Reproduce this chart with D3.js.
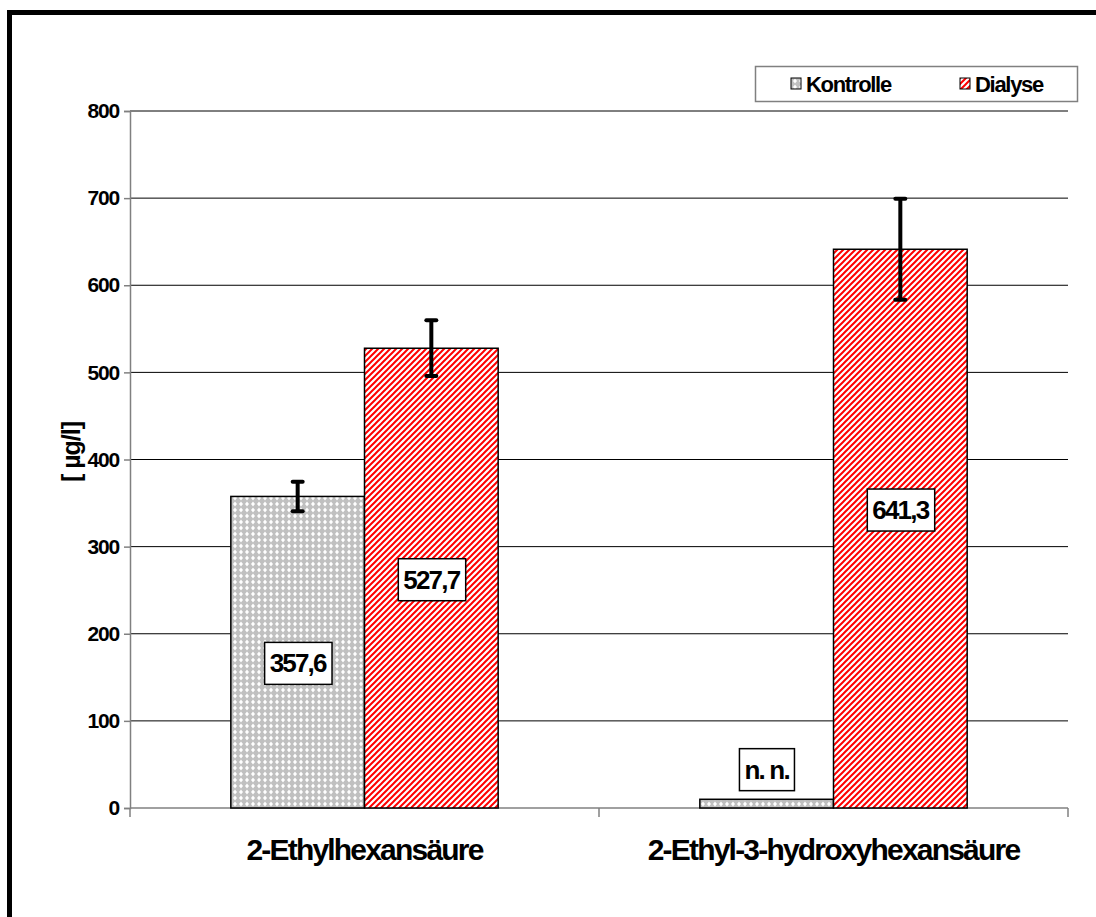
<!DOCTYPE html>
<html>
<head>
<meta charset="utf-8">
<script src="https://cdn.jsdelivr.net/npm/d3@7"></script>
<style>
  body { margin: 0; background: #fff; }
  text { font-family: "Liberation Sans", Arial, sans-serif; font-weight: bold; }
</style>
</head>
<body>
<div id="chart"></div>
<script>
var svgWidth = 1096;
var svgHeight = 917;

var margin = { top: 111, right: 28, bottom: 109, left: 130 };
var width = svgWidth - margin.left - margin.right;
var height = svgHeight - margin.top - margin.bottom;

// chart data
var categories = ["2-Ethylhexansäure", "2-Ethyl-3-hydroxyhexansäure"];
var seriesNames = ["Kontrolle", "Dialyse"];
var kontrolle = [357.6, 10];
var dialyse = [527.7, 641.3];
var kontrolleErr = [17, 0];
var dialyseErr = [32, 58];
var kontrolleLabels = ["357,6", "n. n."];
var dialyseLabels = ["527,7", "641,3"];
var kontrolleLabelAt = [166, 44];
var dialyseLabelAt = [262, 342];
var yTicks = [0, 100, 200, 300, 400, 500, 600, 700, 800];

var svg = d3.select("#chart").append("svg")
  .attr("width", svgWidth)
  .attr("height", svgHeight);

// patterns
var defs = svg.append("defs");
var pk = defs.append("pattern").attr("id", "pKontrolle")
  .attr("patternUnits", "userSpaceOnUse").attr("width", 6).attr("height", 6);
pk.append("rect").attr("width", 6).attr("height", 6).attr("fill", "#c0c0c0");
pk.append("path").attr("d", "M3,0.5 L5,3 L3,5.5 L1,3 Z").attr("fill", "#fff");

var pd = defs.append("pattern").attr("id", "pDialyse")
  .attr("patternUnits", "userSpaceOnUse").attr("width", 6).attr("height", 6);
pd.append("rect").attr("width", 6).attr("height", 6).attr("fill", "#fff");
pd.append("path").attr("d", "M-1,7 L7,-1 M-1,1 L1,-1 M5,7 L7,5")
  .attr("stroke", "#ff0000").attr("stroke-width", 2);

// outer frame
svg.append("rect")
  .attr("x", 9.5).attr("y", 12.5)
  .attr("width", 1200).attr("height", 1000)
  .attr("fill", "none").attr("stroke", "#000").attr("stroke-width", 5);

var chartGroup = svg.append("g")
  .attr("transform", `translate(${margin.left}, ${margin.top})`);

var x0 = d3.scaleBand().domain(categories).range([0, width]);
var x1 = d3.scaleBand().domain(seriesNames)
  .range([x0.bandwidth() * 0.215, x0.bandwidth() * 0.785]);

var yLinearScale = d3.scaleLinear().domain([0, 800]).range([height, 0]);

// gridlines
chartGroup.selectAll(".grid").data(yTicks.slice(1)).enter().append("line")
  .attr("x1", 0).attr("x2", width)
  .attr("y1", d => yLinearScale(d)).attr("y2", d => yLinearScale(d))
  .attr("stroke", "#000").attr("stroke-width", 1);

// axes
var leftAxis = d3.axisLeft(yLinearScale).tickValues(yTicks).tickSize(6).tickPadding(5);
var yAxisG = chartGroup.append("g").call(leftAxis).attr("font-size", 21);
yAxisG.select(".domain").attr("stroke", "#808080").attr("stroke-width", 1.5);
yAxisG.selectAll(".tick line").attr("stroke", "#808080").attr("stroke-width", 1.5);
yAxisG.selectAll(".tick text")
  .attr("font-size", "21px").attr("font-family", "Liberation Sans, Arial, sans-serif")
  .attr("font-weight", "bold").attr("letter-spacing", "-1.2px").attr("fill", "#000");

chartGroup.append("line")
  .attr("x1", 0).attr("x2", width)
  .attr("y1", height).attr("y2", height)
  .attr("stroke", "#808080").attr("stroke-width", 1.5);
chartGroup.selectAll(".ctick").data([0, 1, 2]).enter().append("line")
  .attr("x1", d => d * x0.step()).attr("x2", d => d * x0.step())
  .attr("y1", height).attr("y2", height + 9)
  .attr("stroke", "#808080").attr("stroke-width", 1.5);

chartGroup.selectAll(".clabel").data(categories).enter().append("text")
  .attr("x", d => x0(d) + x0.bandwidth() / 2)
  .attr("y", height + 52)
  .attr("text-anchor", "middle")
  .attr("font-size", "30px")
  .attr("letter-spacing", "-1.8px")
  .text(d => d);

// bars
var series = [
  { name: "Kontrolle", values: kontrolle, err: kontrolleErr, labels: kontrolleLabels, labelAt: kontrolleLabelAt, fill: "url(#pKontrolle)" },
  { name: "Dialyse", values: dialyse, err: dialyseErr, labels: dialyseLabels, labelAt: dialyseLabelAt, fill: "url(#pDialyse)" }
];

series.forEach(function(s) {
  chartGroup.selectAll(null).data(categories).enter().append("rect")
    .attr("x", (d) => x0(d) + x1(s.name))
    .attr("y", (d, i) => yLinearScale(s.values[i]))
    .attr("width", x1.bandwidth())
    .attr("height", (d, i) => height - yLinearScale(s.values[i]))
    .attr("fill", s.fill)
    .attr("stroke", "#000").attr("stroke-width", 1.5);
});

// error bars
series.forEach(function(s) {
  categories.forEach(function(c, i) {
    if (!s.err[i]) return;
    var cx = x0(c) + x1(s.name) + x1.bandwidth() / 2;
    var lo = yLinearScale(s.values[i] - s.err[i]);
    var hi = yLinearScale(s.values[i] + s.err[i]);
    chartGroup.append("line").attr("x1", cx).attr("x2", cx).attr("y1", lo).attr("y2", hi)
      .attr("stroke", "#000").attr("stroke-width", 4);
    [lo, hi].forEach(function(yy) {
      chartGroup.append("line").attr("x1", cx - 5).attr("x2", cx + 5).attr("y1", yy).attr("y2", yy)
        .attr("stroke", "#000").attr("stroke-width", 4).attr("stroke-linecap", "round");
    });
  });
});

// value labels
series.forEach(function(s) {
  categories.forEach(function(c, i) {
    var cx = x0(c) + x1(s.name) + x1.bandwidth() / 2;
    var cy = yLinearScale(s.labelAt[i]);
    var g = chartGroup.append("g");
    var t = g.append("text").attr("x", cx).attr("y", cy + 9)
      .attr("text-anchor", "middle").attr("font-size", "26px")
      .attr("letter-spacing", "-1.8px").text(s.labels[i]);
    var bb = t.node().getBBox();
    g.insert("rect", "text")
      .attr("x", bb.x - 5).attr("y", cy - 21)
      .attr("width", bb.width + 10).attr("height", 42)
      .attr("fill", "#fff").attr("stroke", "#000").attr("stroke-width", 1.5);
  });
});

// y axis label
svg.append("text")
  .attr("transform", `translate(80, 452) rotate(-90)`)
  .attr("text-anchor", "middle")
  .attr("font-size", "25px")
  .attr("letter-spacing", "-1px")
  .text("[ µg/l]");

// legend
var legend = svg.append("g");
legend.append("rect").attr("x", 755.5).attr("y", 66.5).attr("width", 322).attr("height", 35)
  .attr("fill", "#fff").attr("stroke", "#808080").attr("stroke-width", 1.5);
var legendX = [791, 960];
series.forEach(function(s, i) {
  legend.append("rect").attr("x", legendX[i]).attr("y", 78).attr("width", 10).attr("height", 11)
    .attr("fill", s.fill).attr("stroke", "#000").attr("stroke-width", 1);
  legend.append("text").attr("x", legendX[i] + 15).attr("y", 92)
    .attr("font-size", "22px").attr("letter-spacing", "-1.3px").text(s.name);
});
</script>
</body>
</html>
